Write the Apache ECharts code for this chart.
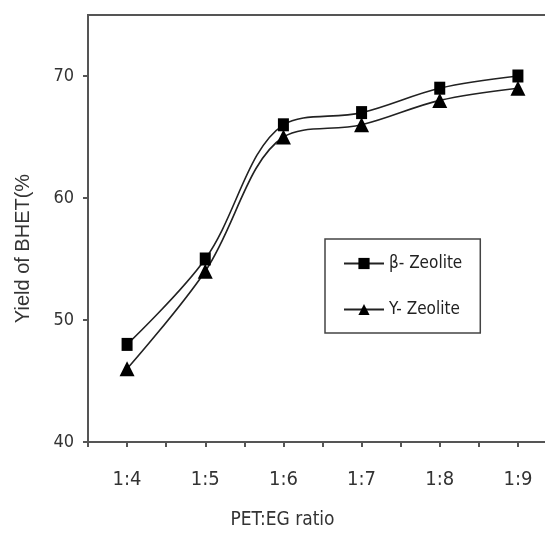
<!DOCTYPE html>
<html style="height: 100%">
<head>
    <meta charset="utf-8">
    <script src="https://cdn.jsdelivr.net/npm/echarts@6/dist/echarts.min.js"></script>
</head>
<body style="height: 100%; margin: 0; background: #fff; overflow: hidden">
    <!-- plot runs past the right edge, as in the original scan -->
    <div id="main" style="width:560px;height:538px;"></div>
    <script type="text/javascript">
    // data
    var ratios = ['1:4', '1:5', '1:6', '1:7', '1:8', '1:9'];
    var betaYield = [48, 55, 66, 67, 69, 70];
    var yYield = [46, 54, 65, 66, 68, 69];
    var yTicks = [40, 50, 60, 70];

    var narrow = '"DejaVu Sans Condensed", "Liberation Sans", Arial, sans-serif';
    var axisColor = '#555';

    var myChart = echarts.init(document.getElementById('main'));
    var option = {
        animation: false,
        grid: {
            left: 88, top: 15, width: 469, height: 427,
            show: true, borderColor: axisColor, borderWidth: 2,
            backgroundColor: 'transparent'
        },
        legend: {
            orient: 'vertical',
            left: 325, top: 239,
            padding: [16, 18, 15, 18],
            itemGap: 29,
            itemWidth: 40,
            itemHeight: 14,
            borderColor: '#444',
            borderWidth: 1.5,
            textStyle: { fontFamily: narrow, fontSize: 17, color: '#222' },
            data: ['β- Zeolite', 'Y- Zeolite']
        },
        xAxis: [{
            type: 'category',
            data: ratios,
            boundaryGap: true,
            axisLine: { lineStyle: { color: axisColor, width: 2 } },
            axisTick: { show: true, length: 5, lineStyle: { color: axisColor, width: 2 } },
            axisLabel: { fontFamily: narrow, fontSize: 20, color: '#333', margin: 28 },
            name: 'PET:EG ratio',
            nameLocation: 'middle',
            nameGap: 69,
            nameTextStyle: { fontFamily: narrow, fontSize: 19, color: '#333', padding: [0, 80, 0, 0] }
        }, {
            type: 'category',
            data: ratios,
            position: 'bottom',
            boundaryGap: true,
            axisLine: { show: false },
            axisTick: { show: true, alignWithLabel: true, length: 5, lineStyle: { color: axisColor, width: 2 } },
            axisLabel: { show: false }
        }],
        yAxis: {
            type: 'value',
            min: yTicks[0],
            max: 75,
            interval: 10,
            splitLine: { show: false },
            axisLine: { show: true, lineStyle: { color: axisColor, width: 2 } },
            axisTick: { show: true, length: 5, customValues: yTicks, lineStyle: { color: axisColor, width: 2 } },
            axisLabel: {
                fontFamily: narrow, fontSize: 18, color: '#333', margin: 14,
                customValues: yTicks
            },
            name: 'Yield of BHET(%',
            nameLocation: 'middle',
            nameGap: 55,
            nameTextStyle: { fontFamily: '"Liberation Sans", Arial, sans-serif', fontSize: 20, color: '#333', padding: [0, 40, 0, 0] }
        },
        series: [{
            name: 'β- Zeolite',
            type: 'line',
            data: betaYield,
            smooth: 0.35,
            symbol: 'rect',
            symbolSize: [11, 13],
            itemStyle: { color: '#000' },
            lineStyle: { color: '#222', width: 1.6 }
        }, {
            name: 'Y- Zeolite',
            type: 'line',
            data: yYield,
            smooth: 0.35,
            symbol: 'triangle',
            symbolSize: [15, 15],
            itemStyle: { color: '#000' },
            lineStyle: { color: '#222', width: 1.6 }
        }]
    };
    myChart.setOption(option, true);
    </script>
</body>
</html>
